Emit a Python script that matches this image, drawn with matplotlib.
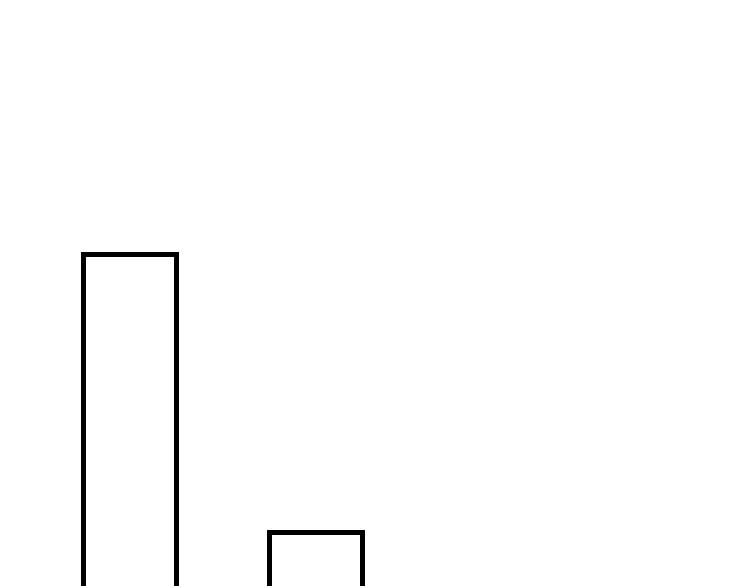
import matplotlib
matplotlib.use("Agg")
import matplotlib.pyplot as plt

categories = ["A", "B"]
values = [10, 2]

fig = plt.figure(figsize=(7.5, 5.86), dpi=100)
ax = fig.add_axes([0, 0, 1, 1])

positions = list(range(len(categories)))
ax.bar(positions, values, width=0.5, facecolor="white", edgecolor="black", linewidth=3.6)

# place bars so that the first sits near the left and the baseline falls below the frame
px_per_unit = 186.0
ax.set_xlim(-129.5 / px_per_unit, (750 - 129.5) / px_per_unit)
ypx = (532 - 254) / (values[0] - values[1])
ax.set_ylim(values[1] - (586 - 532) / ypx, values[0] + 254 / ypx)
ax.axis("off")

fig.savefig("out.png", dpi=100)
